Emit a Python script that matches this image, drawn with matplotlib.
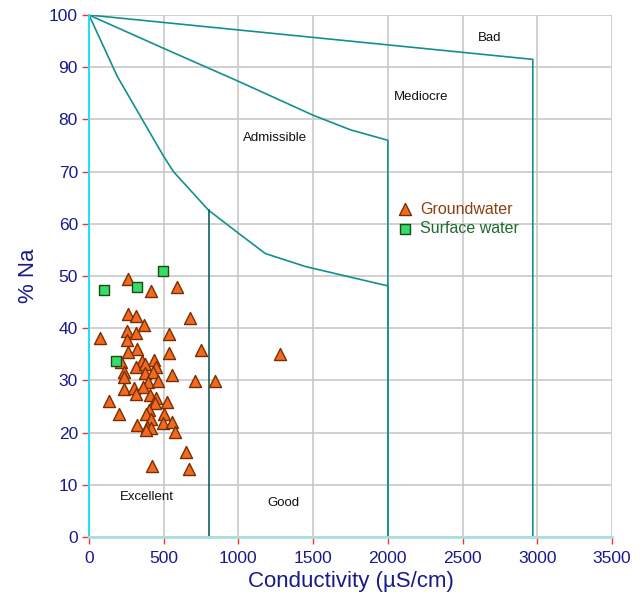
import matplotlib
matplotlib.use("Agg")
import matplotlib.pyplot as plt

plt.rcParams['font.family'] = ['Liberation Sans', 'DejaVu Sans']

# Boundary curves (conductivity, %Na)
bad_x = [0, 2970, 2970]
bad_y = [100, 91.5, 0]
mediocre_x = [0, 500, 1000, 1500, 1750, 2000, 2000]
mediocre_y = [100, 93.6, 87.3, 80.8, 78.0, 76.0, 0]
admissible_x = [0, 190, 500, 565, 800, 1000, 1180, 1450, 2000, 2000]
admissible_y = [100, 88.2, 72.9, 70.0, 62.6, 58.2, 54.3, 51.8, 48.1, 0]
good_x = [800, 800]
good_y = [62.6, 0]

# Region labels
region_names = ["Bad", "Mediocre", "Admissible", "Excellent", "Good"]
region_x = [2684, 2222, 1245, 388, 1298]
region_y = [95.6, 84.3, 76.4, 7.7, 6.5]

# Groundwater samples
gw_cond = [263, 413, 589, 259, 315, 370, 678, 252, 315, 74, 533, 252, 323, 263, 537,
           747, 212, 355, 435, 315, 375, 448, 234, 377, 426, 553, 234, 393, 460, 707,
           841, 236, 303, 364, 312, 406, 448, 442, 524, 134, 203, 402, 381, 502, 413,
           497, 557, 323, 386, 415, 381, 573, 651, 422, 671, 1278]
gw_na = [49.4, 47.1, 47.8, 42.7, 42.4, 40.7, 42.0, 39.5, 39.0, 38.1, 38.9, 37.7, 36.0, 35.5, 35.3,
         35.8, 33.6, 33.7, 34.0, 32.5, 33.1, 32.6, 31.7, 31.5, 31.6, 31.0, 30.6, 29.6, 29.9, 29.9,
         29.9, 28.3, 28.6, 28.8, 27.4, 27.2, 26.6, 25.7, 25.9, 26.1, 23.6, 24.3, 23.6, 23.5, 22.7,
         21.9, 22.0, 21.5, 21.1, 20.9, 20.5, 20.1, 16.2, 13.6, 13.1, 35.0]

# Surface water samples
sw_cond = [495, 103, 319, 178]
sw_na = [51.0, 47.3, 47.9, 33.8]

xticks = [0, 500, 1000, 1500, 2000, 2500, 3000, 3500]
yticks = [0, 10, 20, 30, 40, 50, 60, 70, 80, 90, 100]

fig = plt.figure(figsize=(6.44, 6.0), dpi=100)
ax = fig.add_axes([89/644, 63/600, 523/644, 522/600])

teal = '#138f8f'
navy = '#1a1a8a'

ax.set_xlim(0, 3500)
ax.set_ylim(0, 100)
ax.set_xticks(xticks)
ax.set_yticks(yticks)
ax.grid(True, color='#c8c8c8', linewidth=1.2, zorder=0)
ax.set_axisbelow(True)

for s in ['top', 'right']:
    ax.spines[s].set_visible(False)
ax.spines['left'].set_color('#22e0f0')
ax.spines['left'].set_linewidth(1.5)
ax.spines['bottom'].set_color('#a8e0e0')
ax.spines['bottom'].set_linewidth(2)

ax.tick_params(axis='both', direction='out', length=5, width=1, color='#ff3030',
               labelcolor=navy, labelsize=12.5)
ax.tick_params(axis='x', pad=5)
ax.tick_params(axis='y', pad=3)

ax.plot(bad_x, bad_y, color=teal, lw=1.2, zorder=2)
ax.plot(mediocre_x, mediocre_y, color=teal, lw=1.2, zorder=2)
ax.plot(admissible_x, admissible_y, color=teal, lw=1.2, zorder=2)
ax.plot(good_x, good_y, color='#106060', lw=1.2, zorder=2)

for name, x, y in zip(region_names, region_x, region_y):
    ax.text(x, y, name, fontsize=9.5, color='#111111', ha='center', va='center')

ax.scatter(gw_cond, gw_na, marker='^', s=75, color='#f26a22', edgecolor='#7a2e00',
           linewidth=1.0, zorder=3, label='Groundwater')
ax.scatter(sw_cond, sw_na, marker='s', s=58, color='#33dd66', edgecolor='#1a4a1a',
           linewidth=1.0, zorder=4, label='Surface water')

leg = ax.legend(loc='upper left', bbox_to_anchor=(0.565, 0.664), frameon=False,
                fontsize=11.5, handletextpad=0.35, labelspacing=0.3, borderpad=0.2,
                handlelength=1.2)
leg.get_texts()[0].set_color('#8a4010')
leg.get_texts()[1].set_color('#1e6b2e')

ax.set_xlabel('Conductivity (µS/cm)', fontsize=16, color=navy, labelpad=4)
ax.set_ylabel('% Na', fontsize=16, color=navy, labelpad=7)

fig.savefig('out.png', dpi=100)
